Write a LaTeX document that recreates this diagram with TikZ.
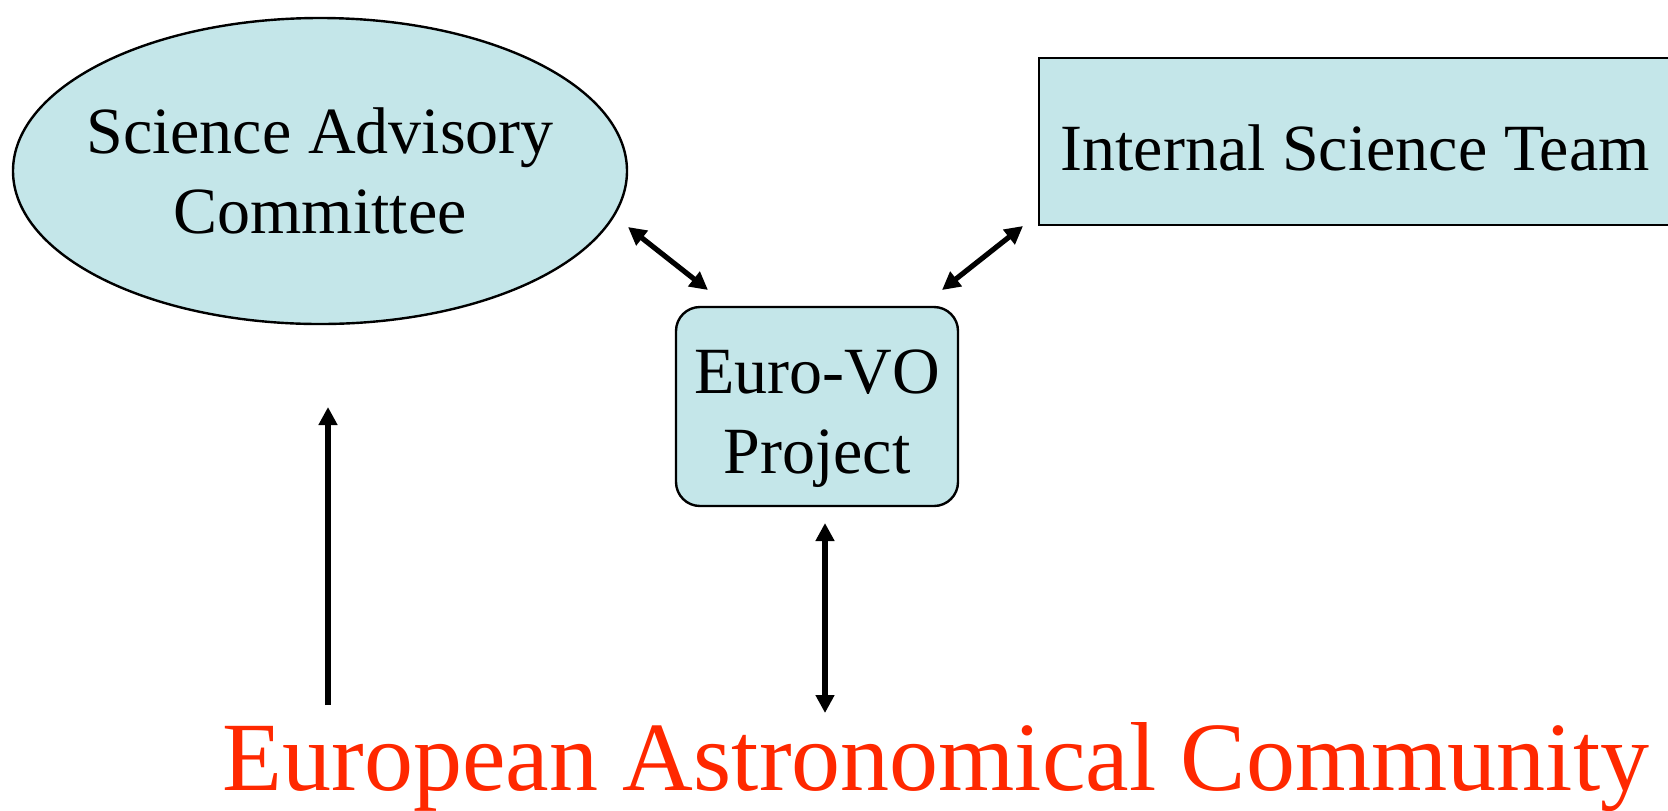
\documentclass[tikz,border=0pt]{standalone}
\usepackage{fontspec}
\setmainfont{Liberation Serif}
\usetikzlibrary{shapes.geometric,arrows.meta}
\definecolor{boxfill}{RGB}{196,230,233}
\definecolor{commred}{RGB}{255,40,0}
\begin{document}
\begin{tikzpicture}[x=0.5pt,y=-0.5pt,
  nodefont/.style={font=\fontsize{33}{40}\selectfont, align=center},
  boxshape/.style={fill=boxfill, draw=black, line width=1.2pt},
  link/.style={line width=2.6pt, {Triangle[length=9pt,width=9pt]}-{Triangle[length=9pt,width=9pt]}},
  uplink/.style={line width=3pt, -{Triangle[length=9pt,width=9pt]}}
]
\useasboundingbox (0,0) rectangle (1668,810);
\clip (0,0) rectangle (1668,810);
\node[boxshape, ellipse, minimum width=307pt, minimum height=153pt, inner sep=0pt] (sac) at (320,171) {};
\node[nodefont, inner sep=0pt, text height=62pt, text depth=0pt] (saclbl) at (sac.center) {Science Advisory\\Committee};
\node[boxshape, nodefont, rectangle, minimum width=316pt, minimum height=83.5pt, inner sep=0pt, text height=28.5pt, text depth=0pt] (ist) at (1355,141.5) {Internal Science Team};
\node[boxshape, nodefont, rectangle, rounded corners=12pt, minimum width=141pt, minimum height=99.5pt, inner sep=0pt, text height=66.5pt, text depth=0pt] (evo) at (817,406.5) {Euro-VO\\Project};
\node[font=\fontsize{49}{60}\selectfont, text=commred, anchor=base, inner sep=0pt] (eac) at (936,790) {European Astronomical Community};
\coordinate (l1) at (628,227);
\coordinate (l2) at (708,290);
\coordinate (r1) at (1023,226);
\coordinate (r2) at (942,290);
\coordinate (v1) at (825,523);
\coordinate (v2) at (825,713);
\coordinate (u1) at (328,705);
\coordinate (u2) at (328,407);
\draw[link] (l1) -- (l2);
\draw[link] (r1) -- (r2);
\draw[link] (v1) -- (v2);
\draw[uplink] (u1) -- (u2);
\end{tikzpicture}
\end{document}
